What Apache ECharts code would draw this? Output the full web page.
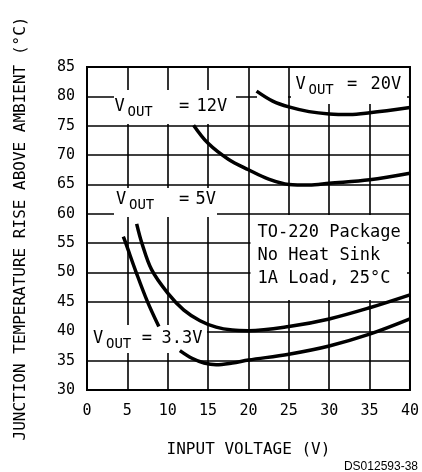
<!DOCTYPE html>
<html>
<head>
<meta charset="utf-8">
<script src="https://cdn.jsdelivr.net/npm/echarts@6/dist/echarts.min.js"></script>
<style>
html, body { margin: 0; padding: 0; background: #fff; }
#chart { width: 422px; height: 472px; }
</style>
</head>
<body>
<div id="chart"></div>
<script>
// axis ticks
const xTicks = [0, 5, 10, 15, 20, 25, 30, 35, 40]
const yTicks = [30, 35, 40, 45, 50, 55, 60, 65, 70, 75, 80, 85]

// curves: [input voltage, temperature rise]
const vout33a = [[4.5, 56.1], [4.8, 55], [6.1, 50], [7.5, 45], [8.9, 40.8]]
const vout33b = [[11.5, 36.7], [13, 35.4], [14.5, 34.6], [16, 34.3], [18, 34.6], [20, 35.1], [25, 36.1], [30, 37.5], [35, 39.5], [40, 42.1]]
const vout5 = [[6.15, 58.3], [6.8, 55], [8, 50.5], [10, 46.5], [12, 43.6], [14, 41.8], [16, 40.7], [18, 40.2], [20, 40.1], [25, 40.8], [30, 42.1], [35, 44], [40, 46.2]]
const vout12 = [[13.2, 75.1], [15, 72], [17.5, 69.3], [20, 67.5], [22.5, 65.9], [25, 65.0], [27.5, 64.9], [30, 65.2], [35, 65.8], [40, 66.9]]
const vout20 = [[21, 80.9], [23, 79.2], [25, 78.2], [27.5, 77.4], [30, 77.0], [32.5, 76.9], [35, 77.2], [40, 78.1]]

const noteLines = ['TO-220 Package', 'No Heat Sink', '1A Load, 25°C']

const mono = '"DejaVu Sans Mono", monospace'
const chart = echarts.init(document.getElementById('chart'))

function curve(data) {
  return {
    type: 'line',
    data: data,
    smooth: 0.35,
    symbol: 'none',
    lineStyle: { color: '#000', width: 3.5 },
    silent: true
  }
}

function txt(x, y, text, size, extra) {
  return Object.assign({
    type: 'text', x: x, y: y, z: 10,
    style: { text: text, font: size + 'px ' + mono, fill: '#000', align: 'left', verticalAlign: 'middle' }
  }, extra || {})
}

// V_OUT labels: V, subscript OUT, "=", value
function voutLabel(vx, cy, eqX, val, valX) {
  return [
    txt(vx - 0.5, cy, 'V', 17),
    txt(vx + 12.5, cy + 5.5, 'OUT', 14),
    txt(eqX - 1, cy, '=', 17),
    txt(valX - 1.5, cy, val, 17)
  ]
}

// white patches that hide the grid behind the labels
function box(x, y, w, h) {
  return { type: 'rect', z: 1, shape: { x: x, y: y, width: w, height: h }, style: { fill: '#fff' } }
}

const graphics = [
  box(114, 90, 122, 34),
  box(114, 188, 103, 29),
  box(88, 325, 119, 28),
  box(291, 68, 116, 36),
  box(257, 94, 31, 5),
  box(250.5, 215, 156.5, 85)
]
  .concat(voutLabel(115, 106.5, 180, '12V', 198))
  .concat(voutLabel(116.5, 200, 180, '5V', 197))
  .concat(voutLabel(93.5, 339, 142.7, '3.3V', 163))
  .concat(voutLabel(296, 85, 348, '20V', 372))
  .concat(noteLines.map((s, i) => txt(257.5, 232.3 + i * 23, s, 17)))
  .concat([{
    type: 'text', right: 4, top: 461, z: 10,
    style: { text: 'DS012593-38', font: '12px "Liberation Sans", Arial, sans-serif', fill: '#000' }
  }])

chart.setOption({
  animation: false,
  backgroundColor: '#fff',
  grid: {
    left: 87, right: 12, top: 67, bottom: 82,
    show: true, borderColor: '#000', borderWidth: 2, backgroundColor: 'transparent'
  },
  xAxis: {
    type: 'value',
    min: xTicks[0], max: xTicks[xTicks.length - 1], interval: 5,
    name: 'INPUT VOLTAGE (V)',
    nameLocation: 'middle', nameGap: 52,
    nameTextStyle: { fontFamily: mono, fontSize: 16, color: '#000' },
    axisLine: { show: false },
    axisTick: { show: false },
    axisLabel: { margin: 14, fontFamily: mono, fontSize: 15, color: '#000' },
    splitLine: { show: true, lineStyle: { color: '#000', width: 1.6 } }
  },
  yAxis: {
    type: 'value',
    min: yTicks[0], max: yTicks[yTicks.length - 1], interval: 5,
    name: 'JUNCTION TEMPERATURE RISE ABOVE AMBIENT (°C)',
    nameLocation: 'middle', nameGap: 58, nameRotate: 90,
    nameTextStyle: { fontFamily: mono, fontSize: 16, color: '#000' },
    axisLine: { show: false },
    axisTick: { show: false },
    axisLabel: { margin: 12, fontFamily: mono, fontSize: 15, color: '#000' },
    splitLine: { show: true, lineStyle: { color: '#000', width: 1.6 } }
  },
  series: [curve(vout33a), curve(vout33b), curve(vout5), curve(vout12), curve(vout20)],
  graphic: graphics
})
</script>
</body>
</html>
